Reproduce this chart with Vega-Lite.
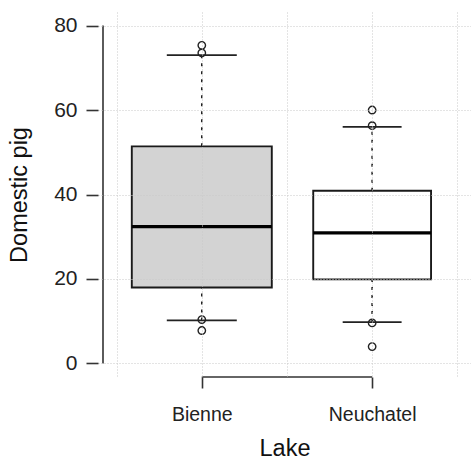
{
  "$schema": "https://vega.github.io/schema/vega-lite/v6.json",
  "width": 373,
  "height": 365,
  "autosize": "none",
  "padding": {"left": 98, "top": 12, "right": 0, "bottom": 84},
  "background": "white",
  "config": {
    "view": {"stroke": null},
    "font": "Liberation Sans",
    "axis": {"labelFont": "Liberation Sans", "titleFont": "Liberation Sans", "titleFontWeight": "normal", "labelColor": "#222", "titleColor": "#111"}
  },
  "data": {
    "values": [
      {"Lake": "Bienne", "n": 24, "lower": 10.2, "q1": 18.0, "median": 32.4, "q3": 51.4, "upper": 73.0, "out": [75.3, 73.5, 10.4, 7.8]},
      {"Lake": "Neuchatel", "n": 17, "lower": 9.8, "q1": 19.9, "median": 30.9, "q3": 40.9, "upper": 56.0, "out": [60.0, 56.3, 9.6, 4.0]}
    ]
  },
  "transform": [{"window": [{"op": "row_number", "as": "idx"}]}],
  "resolve": {"scale": {"size": "independent"}},
  "layer": [
    {
      "mark": {"type": "rule", "strokeDash": [3, 5], "strokeWidth": 1.6, "color": "#222"},
      "encoding": {
        "x": {"field": "idx", "type": "quantitative", "title": "Lake",
          "scale": {"domain": [0.42, 2.551], "nice": false, "zero": false},
          "axis": {
            "values": [0.5, 1, 1.5, 2, 2.5],
            "domain": false,
            "grid": true, "gridColor": "#c8c8c8", "gridDash": [1, 2], "gridWidth": 1,
            "ticks": true, "tickSize": 11, "tickWidth": 1.6, "tickColor": "#333",
            "tickOpacity": {"condition": {"test": "datum.value == 1 || datum.value == 2", "value": 1}, "value": 0},
            "labelExpr": "datum.value == 1 ? 'Bienne' : datum.value == 2 ? 'Neuchatel' : ''",
            "labelFontSize": 19.5, "labelPadding": 17, "labelFlush": false, "labelOverlap": false,
            "titleFontSize": 23.5, "titlePadding": 13, "zindex": 1
          }
        },
        "y": {"field": "q3", "type": "quantitative", "title": "Domestic pig",
          "scale": {"domain": [-3.2, 83.2], "nice": false, "zero": false},
          "axis": {
            "values": [0, 20, 40, 60, 80],
            "domain": false,
            "grid": true, "gridColor": "#c8c8c8", "gridDash": [1, 2], "gridWidth": 1,
            "tickSize": 12, "tickWidth": 1.6, "tickColor": "#333",
            "labelFontSize": 21, "labelPadding": 9, "labelFlush": false,
            "titleFontSize": 23.5, "titlePadding": 22, "zindex": 1
          }
        },
        "y2": {"field": "upper"}
      }
    },
    {
      "mark": {"type": "rule", "strokeDash": [3, 5], "strokeWidth": 1.6, "color": "#222"},
      "encoding": {
        "x": {"field": "idx", "type": "quantitative", "title": "Lake"},
        "y": {"field": "lower", "type": "quantitative", "title": "Domestic pig"},
        "y2": {"field": "q1"}
      }
    },
    {
      "mark": {"type": "bar", "orient": "vertical", "stroke": "#1a1a1a", "strokeWidth": 1.9, "opacity": 1},
      "encoding": {
        "x": {"field": "idx", "type": "quantitative", "title": "Lake"},
        "y": {"field": "q1", "type": "quantitative", "title": "Domestic pig"},
        "y2": {"field": "q3"},
        "size": {"field": "n", "type": "quantitative", "scale": {"type": "sqrt", "domain": [0, 24], "range": [0, 140]}, "legend": null},
        "color": {"field": "Lake", "type": "nominal", "scale": {"domain": ["Bienne", "Neuchatel"], "range": ["#d3d3d3", "#ffffff"]}, "legend": null}
      }
    },
    {
      "mark": {"type": "tick", "orient": "horizontal", "thickness": 3.2, "color": "#000", "opacity": 1},
      "encoding": {
        "x": {"field": "idx", "type": "quantitative", "title": "Lake"},
        "y": {"field": "median", "type": "quantitative", "title": "Domestic pig"},
        "size": {"field": "n", "type": "quantitative", "scale": {"type": "sqrt", "domain": [0, 24], "range": [0, 140]}, "legend": null}
      }
    },
    {
      "transform": [{"fold": ["lower", "upper"], "as": ["end", "whisk"]}],
      "mark": {"type": "tick", "orient": "horizontal", "thickness": 1.8, "color": "#222", "opacity": 1},
      "encoding": {
        "x": {"field": "idx", "type": "quantitative", "title": "Lake"},
        "y": {"field": "whisk", "type": "quantitative", "title": "Domestic pig"},
        "size": {"field": "n", "type": "quantitative", "scale": {"type": "sqrt", "domain": [0, 24], "range": [0, 70]}, "legend": null}
      }
    },
    {
      "transform": [{"flatten": ["out"]}],
      "mark": {"type": "point", "shape": "circle", "filled": false, "size": 55, "strokeWidth": 1.4, "color": "#222", "opacity": 1},
      "encoding": {
        "x": {"field": "idx", "type": "quantitative", "title": "Lake"},
        "y": {"field": "out", "type": "quantitative", "title": "Domestic pig"}
      }
    },
    {
      "data": {"values": [{"a": 0.42, "b": 0, "c": 80}]},
      "mark": {"type": "rule", "strokeWidth": 1.6, "color": "#333"},
      "encoding": {
        "x": {"field": "a", "type": "quantitative", "title": "Lake"},
        "y": {"field": "b", "type": "quantitative", "title": "Domestic pig"},
        "y2": {"field": "c"}
      }
    },
    {
      "data": {"values": [{"a": 1, "b": 2, "c": -3.2}]},
      "mark": {"type": "rule", "strokeWidth": 1.6, "color": "#333"},
      "encoding": {
        "x": {"field": "a", "type": "quantitative", "title": "Lake"},
        "x2": {"field": "b"},
        "y": {"field": "c", "type": "quantitative", "title": "Domestic pig"}
      }
    }
  ]
}
